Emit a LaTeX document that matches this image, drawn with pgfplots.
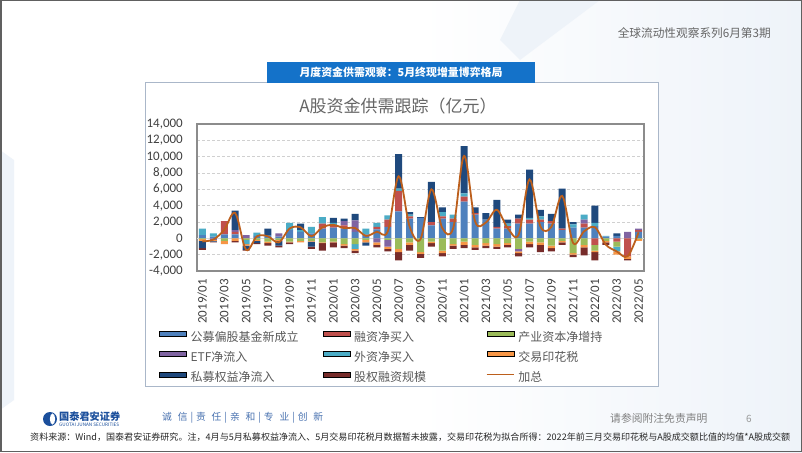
\documentclass[border=0pt]{standalone}
\usepackage{pgfplots}
\pgfplotsset{compat=1.18}
\usepackage{pgfplotstable}
\usepackage{graphicx}
\usepackage{fontspec}
\setmainfont{Noto Sans CJK SC}
\newfontfamily\cjk{Noto Sans CJK SC}
\newfontfamily\calfont{Carlito}
\definecolor{cA}{HTML}{4F81BD}
\definecolor{cB}{HTML}{C0504D}
\definecolor{cC}{HTML}{9BBB59}
\definecolor{cD}{HTML}{8064A2}
\definecolor{cE}{HTML}{4BACC6}
\definecolor{cF}{HTML}{F79646}
\definecolor{cG}{HTML}{1F497D}
\definecolor{cH}{HTML}{772C2A}
\definecolor{cL}{HTML}{BC5F1C}
\definecolor{cFrame}{HTML}{8C8C8C}
\definecolor{cGrid}{HTML}{D0D0D0}
\definecolor{cZero}{HTML}{D9D9D9}
\definecolor{cTick}{HTML}{404040}
\definecolor{cLeg}{HTML}{5A5A5A}
\definecolor{cTitle}{HTML}{666666}
\definecolor{cBox}{HTML}{1472C9}
\definecolor{cOuter}{HTML}{AAB7C9}
\definecolor{cLogo}{HTML}{1B4F9C}
\definecolor{cWash}{HTML}{EEF3F9}

\pgfplotstableread{
m a b c d e f g h t
1 400 0 -100 0 800 -200 -900 -200 -370
2 200 0 0 -200 400 -100 -100 -100 -150
3 500 1600 -300 0 0 -400 0 0 1050
4 500 300 0 200 0 -300 2400 -200 3100
5 0 0 -200 400 -500 -200 -500 -100 -1400
6 300 0 -200 0 400 -100 -300 -100 250
7 400 0 -400 0 0 -200 800 -300 250
8 200 0 -200 400 0 -100 -600 -200 -500
9 1000 0 -400 0 900 -100 0 -200 1200
10 800 0 -300 0 200 -200 800 0 1350
11 600 0 -300 0 800 -100 -600 -300 250
12 1200 600 -500 0 800 -100 0 -900 1350
13 1300 300 -400 0 300 -100 600 -600 1650
14 1200 400 -700 500 0 -200 300 -300 1250
15 800 0 -700 1400 -600 -200 800 -300 1250
16 500 0 -200 0 700 -300 -400 0 300
17 1100 300 0 -500 500 -300 0 -300 800
18 1400 900 -200 -800 500 -300 0 -300 850
19 3300 2500 -1300 0 300 -400 4200 -1000 7600
20 2400 300 -500 0 200 -300 300 -700 1450
21 2500 0 -1700 0 0 -200 100 -500 -100
22 1600 400 -400 0 0 -200 4900 -400 6000
23 2400 300 -1500 0 500 -300 600 -400 1250
24 2000 400 -700 0 500 -200 0 -400 1250
25 4500 600 -400 0 400 -400 5800 -400 10100
26 2900 200 -800 0 0 -300 700 -300 2100
27 2300 0 -600 0 0 -300 800 -300 1950
28 1200 200 -700 0 0 -300 3300 -300 3500
29 1200 300 -600 0 300 -200 500 -300 1250
30 1800 600 -1300 -300 0 -200 500 -400 450
31 1800 500 -400 0 200 -300 5900 -400 7200
32 2000 300 -500 0 400 -300 800 -900 1450
33 1800 300 -900 0 0 -300 900 -400 1400
34 1000 200 -300 0 0 -200 4900 -300 5200
35 1300 0 -1800 0 400 -200 300 -300 -570
36 1300 500 -800 500 600 -300 0 -1000 850
37 1500 -800 -700 0 400 -200 2100 -1000 1350
38 200 0 -300 0 100 -200 0 -300 -780
39 300 -400 -600 0 -600 -400 300 0 -1600
40 0 -2200 0 800 0 -300 0 -200 -2200
41 800 200 -100 200 0 -200 0 0 730
}\data

\tikzset{barleg/.style={}, lineleg/.style={}}
\pgfplotsset{
  barleg/.style={legend image code/.code={\fill[##1] (0pt,2pt) rectangle (27pt,7pt);}},
  lineleg/.style={legend image code/.code={\draw[##1, line width=1.4pt] (0pt,4.5pt) -- (27pt,4.5pt);}},
  base/.style={at={(197pt,-271pt)}, anchor=south west, scale only axis,
    width=447pt, height=147pt, xmin=0.5, xmax=41.5, ymin=-4000, ymax=14000},
}

\begin{document}
\begin{tikzpicture}
\useasboundingbox (0pt,0pt) rectangle (802pt,-452pt);
% slide background
\fill[white] (0pt,0pt) rectangle (802pt,-452pt);
\shade[left color=white, right color=cWash] (420pt,0pt) rectangle (802pt,-452pt);
\fill[cWash] (0pt,-150pt) -- (14pt,-160pt) -- (14pt,-400pt) -- (0pt,-410pt) -- cycle;
\fill[cWash] (520pt,0pt) -- (600pt,0pt) -- (520pt,-60pt) -- (500pt,-40pt) -- cycle;
\draw[gray!75!black, line width=1.5pt] (0.75pt,-0.75pt) rectangle (801.25pt,-451.25pt);
% header
\node[anchor=east, inner sep=0pt, text=cTitle] at (771pt,-33pt)
  {\resizebox{153pt}{!}{\fontsize{12.5}{14}\selectfont 全球流动性观察系列6月第3期}};
% chart frame and title box
\draw[fill=white, draw=cOuter, line width=0.8pt] (145pt,-82pt) rectangle (658pt,-386pt);
\fill[cBox] (267pt,-62pt) rectangle (535pt,-83pt);
\node[inner sep=0pt, text=white] at (401pt,-72.5pt)
  {\resizebox{203pt}{!}{\bfseries\fontsize{11}{13}\selectfont 月度资金供需观察：5月终现增量博弈格局}};
\node[inner sep=0pt, text=cTitle, font=\cjk\fontsize{17}{19}\selectfont] at (398pt,-106pt)
  {A股资金供需跟踪（亿元）};

% positive stacks
\begin{axis}[base, ybar stacked, bar width=7pt,
  axis line style={draw=cFrame, line width=1.2pt},
  ytick={-4000,-2000,...,14000}, scaled y ticks=false,
  xtick={1,3,...,41},
  xticklabels={2019/01,2019/03,2019/05,2019/07,2019/09,2019/11,2020/01,2020/03,2020/05,2020/07,2020/09,2020/11,2021/01,2021/03,2021/05,2021/07,2021/09,2021/11,2022/01,2022/03,2022/05},
  major tick length=0pt,
  ymajorgrids, major grid style={draw=cGrid, line width=0.6pt, dash pattern=on 3pt off 2pt},
  extra y ticks={0}, extra y tick labels={},
  extra y tick style={grid=major, major grid style={draw=cZero, solid, line width=1.5pt}},
  /pgf/number format/assume math mode=true,
  /pgf/number format/1000 sep={,},
  tick label style={font=\calfont\fontsize{13}{15}\selectfont, text=cTick},
  yticklabel style={inner xsep=14pt, inner ysep=0pt},
  xticklabel style={rotate=90, anchor=east, inner xsep=8pt, inner ysep=0pt},
]
\addplot[fill=cA, draw=none] table[x=m, y expr={max(\thisrow{a},0)}] {\data};
\addplot[fill=cB, draw=none] table[x=m, y expr={max(\thisrow{b},0)}] {\data};
\addplot[fill=cC, draw=none] table[x=m, y expr={max(\thisrow{c},0)}] {\data};
\addplot[fill=cD, draw=none] table[x=m, y expr={max(\thisrow{d},0)}] {\data};
\addplot[fill=cE, draw=none] table[x=m, y expr={max(\thisrow{e},0)}] {\data};
\addplot[fill=cF, draw=none] table[x=m, y expr={max(\thisrow{f},0)}] {\data};
\addplot[fill=cG, draw=none] table[x=m, y expr={max(\thisrow{g},0)}] {\data};
\addplot[fill=cH, draw=none] table[x=m, y expr={max(\thisrow{h},0)}] {\data};
\end{axis}

% negative stacks
\begin{axis}[base, hide axis, ybar stacked, bar width=7pt]
\addplot[fill=cA, draw=none] table[x=m, y expr={min(\thisrow{a},0)}] {\data};
\addplot[fill=cB, draw=none] table[x=m, y expr={min(\thisrow{b},0)}] {\data};
\addplot[fill=cC, draw=none] table[x=m, y expr={min(\thisrow{c},0)}] {\data};
\addplot[fill=cD, draw=none] table[x=m, y expr={min(\thisrow{d},0)}] {\data};
\addplot[fill=cE, draw=none] table[x=m, y expr={min(\thisrow{e},0)}] {\data};
\addplot[fill=cF, draw=none] table[x=m, y expr={min(\thisrow{f},0)}] {\data};
\addplot[fill=cG, draw=none] table[x=m, y expr={min(\thisrow{g},0)}] {\data};
\addplot[fill=cH, draw=none] table[x=m, y expr={min(\thisrow{h},0)}] {\data};
\end{axis}

% total line and legend
\begin{axis}[base, hide axis,
  legend columns=3, legend cell align=left,
  legend style={at={(axis description cs:-0.085,-0.408)}, anchor=north west,
    draw=none, fill=none, inner sep=0pt, row sep=7pt,
    font=\cjk\fontsize{12}{14}\selectfont, text=cLeg,
    nodes={text width=128pt, inner xsep=4pt, inner ysep=0pt, text height=9pt, text depth=3pt}},
]
\addlegendimage{barleg, fill=cA}\addlegendentry{公募偏股基金新成立}
\addlegendimage{barleg, fill=cB}\addlegendentry{融资净买入}
\addlegendimage{barleg, fill=cC}\addlegendentry{产业资本净增持}
\addlegendimage{barleg, fill=cD}\addlegendentry{ETF净流入}
\addlegendimage{barleg, fill=cE}\addlegendentry{外资净买入}
\addlegendimage{barleg, fill=cF}\addlegendentry{交易印花税}
\addlegendimage{barleg, fill=cG}\addlegendentry{私募权益净流入}
\addlegendimage{barleg, fill=cH}\addlegendentry{股权融资规模}
\addplot[color=cL, line width=1.8pt, smooth, tension=0.55, lineleg] table[x=m, y=t] {\data};
\addlegendentry{加总}
\end{axis}

% footer
\fill[cLogo] (50pt,-419pt) circle (7pt);
\fill[white] (52.5pt,-419pt) ellipse (2.6pt and 5.6pt);
\node[anchor=west, inner sep=0pt, text=cLogo] at (59pt,-416.5pt)
  {\resizebox{61pt}{!}{\bfseries\fontsize{10}{12}\selectfont 国泰君安证券}};
\node[anchor=west, inner sep=0pt, text=cLogo] at (59pt,-425pt)
  {\resizebox{60pt}{!}{\fontsize{4}{5}\selectfont GUOTAI JUNAN SECURITIES}};
\node[anchor=west, inner sep=0pt, text=cLogo!80] at (162pt,-418pt)
  {\resizebox{161pt}{!}{\fontsize{9}{11}\selectfont 诚\hspace{0.6em}信\hspace{0.3em}|\hspace{0.3em}责\hspace{0.6em}任\hspace{0.3em}|\hspace{0.3em}亲\hspace{0.6em}和\hspace{0.3em}|\hspace{0.3em}专\hspace{0.6em}业\hspace{0.3em}|\hspace{0.3em}创\hspace{0.6em}新}};
\node[anchor=west, inner sep=0pt, text=gray] at (610pt,-418pt)
  {\fontsize{10.8}{12}\selectfont 请参阅附注免责声明};
\node[inner sep=0pt, text=gray!80] at (749pt,-419pt) {\fontsize{10}{12}\selectfont 6};
\node[anchor=west, inner sep=0pt, text=black!85] at (30pt,-437pt)
  {\resizebox{760pt}{!}{\fontsize{9}{11}\selectfont 资料来源：Wind，国泰君安证券研究。注，4月与5月私募权益净流入、5月交易印花税月数据暂未披露，交易印花税为拟合所得：2022年前三月交易印花税与A股成交额比值的均值*A股成交额}};
\end{tikzpicture}
\end{document}
